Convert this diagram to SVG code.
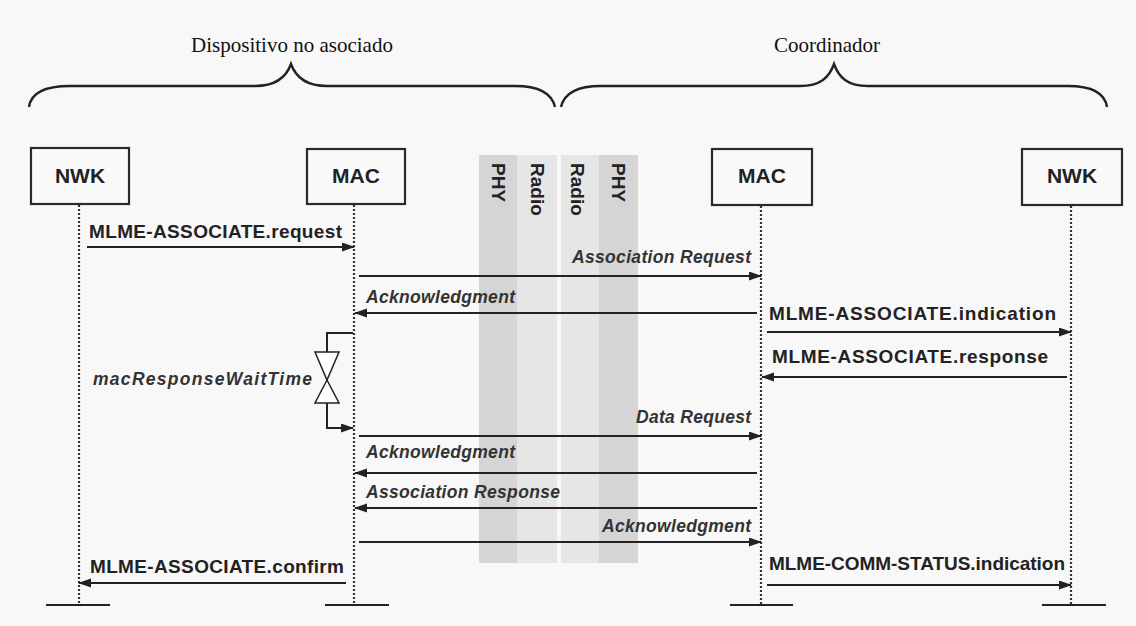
<svg xmlns="http://www.w3.org/2000/svg" width="1136" height="626" viewBox="0 0 1136 626">
<style>
.bg{fill:#f8f8f8}
.box{fill:#fafafa;stroke:#2a2a2a;stroke-width:2.2}
.bt{font-family:"Liberation Sans",Arial,sans-serif;font-weight:bold;font-size:21px;fill:#222;text-anchor:middle}
.title{font-family:"Liberation Serif","Times New Roman",serif;font-size:21px;fill:#111;text-anchor:middle}
.life{stroke:#333;stroke-width:2.2;stroke-dasharray:2 2;fill:none}
.endbar{stroke:#222;stroke-width:2.2}
.msg{stroke:#222;stroke-width:2;fill:none}
.lbl{font-family:"Liberation Sans",Arial,sans-serif;font-weight:bold;font-size:19px;fill:#222}
.it{font-family:"Liberation Sans",Arial,sans-serif;font-weight:bold;font-style:italic;font-size:17.5px;fill:#333}
.band{font-family:"Liberation Sans",Arial,sans-serif;font-weight:bold;font-size:19px;fill:#222}
.brace{fill:none;stroke:#222;stroke-width:2.4}
.phy{fill:#d5d5d5}
.radio{fill:#e6e6e6}
</style>
<defs>
<marker id="ah" markerUnits="userSpaceOnUse" markerWidth="13" markerHeight="10" refX="12" refY="4.5" orient="auto">
<path d="M0,0 L13,4.5 L0,9 z" fill="#222"/>
</marker>
</defs>
<rect class="bg" x="0" y="0" width="1136" height="626"/>

<g id="titles">
<path class="brace" d="M29,107 C31,92 45,86 70,86 L255,86 C275,86 286,78 291,64 C296,78 307,86 327,86 L515,86 C540,86 552,94 555,107"/>
<text class="title" x="292" y="52">Dispositivo no asociado</text>
<path class="brace" d="M561,107 C564,94 576,86 601,86 L800,86 C820,86 829,78 834,64 C839,78 848,86 868,86 L1068,86 C1093,86 1105,94 1107,107"/>
<text class="title" x="827" y="52">Coordinador</text>
</g>

<g id="bands">
<rect class="phy" x="479" y="155" width="38" height="408"/>
<rect class="radio" x="517" y="155" width="40" height="408"/>
<rect class="radio" x="561" y="155" width="38" height="408"/>
<rect class="phy" x="599" y="155" width="39" height="408"/>
<text class="band" transform="translate(492,163) rotate(90)">PHY</text>
<text class="band" transform="translate(531,163) rotate(90)">Radio</text>
<text class="band" transform="translate(571,163) rotate(90)">Radio</text>
<text class="band" transform="translate(612,163) rotate(90)">PHY</text>
</g>

<g id="nwk-dev">
<rect class="box" x="31" y="148" width="98" height="56"/>
<text class="bt" x="80" y="183">NWK</text>
<line class="life" x1="79" y1="205" x2="79" y2="604"/>
<line class="endbar" x1="46" y1="605" x2="110" y2="605"/>
</g>
<g id="mac-dev">
<rect class="box" x="307" y="149" width="98" height="55"/>
<text class="bt" x="356" y="183">MAC</text>
<line class="life" x1="354" y1="205" x2="354" y2="604"/>
<line class="endbar" x1="325" y1="605" x2="389" y2="605"/>
</g>
<g id="mac-coord">
<rect class="box" x="712" y="149" width="100" height="56"/>
<text class="bt" x="762" y="183">MAC</text>
<line class="life" x1="761" y1="206" x2="761" y2="604"/>
<line class="endbar" x1="730" y1="605" x2="793" y2="605"/>
</g>
<g id="nwk-coord">
<rect class="box" x="1022" y="149" width="100" height="56"/>
<text class="bt" x="1072" y="183">NWK</text>
<line class="life" x1="1071" y1="206" x2="1071" y2="604"/>
<line class="endbar" x1="1042" y1="605" x2="1106" y2="605"/>
</g>

<g id="timer">
<path class="msg" d="M353,333 H327 V352"/>
<polygon points="315,352 339,352 327,380" fill="#fff" stroke="#222" stroke-width="1.5"/>
<polygon points="327,380 315,403 339,403" fill="#fff" stroke="#222" stroke-width="1.5"/>
<path class="msg" d="M327,403 V428 H353" marker-end="url(#ah)"/>
<text class="it" x="93" y="385" textLength="219">macResponseWaitTime</text>
</g>

<g id="connectors">
<line class="msg" x1="87" y1="247" x2="354" y2="247" marker-end="url(#ah)"/>
<line class="msg" x1="359" y1="276" x2="761" y2="276" marker-end="url(#ah)"/>
<line class="msg" x1="757" y1="313" x2="355" y2="313" marker-end="url(#ah)"/>
<line class="msg" x1="767" y1="332" x2="1071" y2="332" marker-end="url(#ah)"/>
<line class="msg" x1="1067" y1="377" x2="762" y2="377" marker-end="url(#ah)"/>
<line class="msg" x1="359" y1="436" x2="761" y2="436" marker-end="url(#ah)"/>
<line class="msg" x1="757" y1="473" x2="355" y2="473" marker-end="url(#ah)"/>
<line class="msg" x1="757" y1="508" x2="355" y2="508" marker-end="url(#ah)"/>
<line class="msg" x1="359" y1="542" x2="761" y2="542" marker-end="url(#ah)"/>
<line class="msg" x1="346" y1="583" x2="79" y2="583" marker-end="url(#ah)"/>
<line class="msg" x1="767" y1="585" x2="1071" y2="585" marker-end="url(#ah)"/>
</g>

<g id="labels">
<text class="lbl" x="89" y="238" textLength="253">MLME-ASSOCIATE.request</text>
<text class="it" x="572" y="263" textLength="179">Association Request</text>
<text class="it" x="366" y="303" textLength="149">Acknowledgment</text>
<text class="lbl" x="769" y="320" textLength="287">MLME-ASSOCIATE.indication</text>
<text class="lbl" x="772" y="363" textLength="276">MLME-ASSOCIATE.response</text>
<text class="it" x="636" y="423" textLength="115">Data Request</text>
<text class="it" x="366" y="458" textLength="149">Acknowledgment</text>
<text class="it" x="366" y="498" textLength="194">Association Response</text>
<text class="it" x="602" y="532" textLength="149">Acknowledgment</text>
<text class="lbl" x="90" y="573" textLength="254">MLME-ASSOCIATE.confirm</text>
<text class="lbl" x="769" y="570" textLength="296">MLME-COMM-STATUS.indication</text>
</g>
</svg>
